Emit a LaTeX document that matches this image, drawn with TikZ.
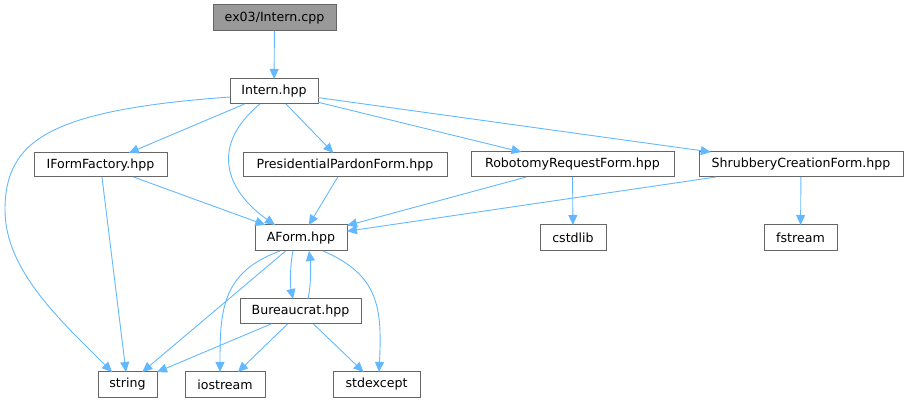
\documentclass[tikz,border=0pt]{standalone}
\usepackage{fontspec}
\setmainfont{DejaVu Sans}
\usetikzlibrary{arrows.meta}
\definecolor{edgeblue}{HTML}{63B8FF}
\definecolor{nodeborder}{HTML}{666666}
\definecolor{rootfill}{HTML}{999999}
\begin{document}
\begin{tikzpicture}[x=1pt,y=-1pt,
  box/.style={draw=nodeborder,line width=1pt,fill=white,inner sep=0pt,outer sep=0pt,
    minimum height=25pt,font=\fontsize{12.6}{14}\selectfont},
  rootbox/.style={box,fill=rootfill},
  dep/.style={draw=edgeblue,line width=0.9pt,-{Triangle[length=10pt,width=9pt]}}
]
\useasboundingbox (0,0) rectangle (908,403);
\node[rootbox,minimum width=123pt,minimum height=26pt] (cpp) at (274.5,18) {ex03/Intern.cpp};
\node[box,minimum width=88pt] (intern) at (274,91.5) {Intern.hpp};
\node[box,minimum width=133pt,minimum height=24pt] (iff) at (100.5,165) {IFormFactory.hpp};
\node[box,minimum width=204pt,minimum height=24pt] (ppf) at (345,165) {PresidentialPardonForm.hpp};
\node[box,minimum width=203pt] (rrf) at (572.5,164.5) {RobotomyRequestForm.hpp};
\node[box,minimum width=204pt] (scf) at (801,164.5) {ShrubberyCreationForm.hpp};
\node[box,minimum width=92pt,minimum height=26pt] (aform) at (301,238) {AForm.hpp};
\node[box,minimum width=66pt,minimum height=26pt] (cstdlib) at (573,238) {cstdlib};
\node[box,minimum width=73pt,minimum height=26pt] (fstream) at (800.5,238) {fstream};
\node[box,minimum width=121pt] (bur) at (300.5,311.5) {Bureaucrat.hpp};
\node[box,minimum width=59pt] (string) at (127.5,384.5) {string};
\node[box,minimum width=80pt] (iostream) at (225,384.5) {iostream};
\node[box,minimum width=87pt] (stdexcept) at (376.5,384.5) {stdexcept};

\draw[dep] (cpp) -- (intern);
\draw[dep] ([yshift=-5.5pt]intern.west) .. controls (50,110) and (5,140) .. (5,210)
  .. controls (5,270) and (60,320) .. ([xshift=-15.5pt]string.north);
\draw[dep] (intern) -- (iff);
\draw[dep] ([xshift=-14pt]intern.south) .. controls (210,145) and (225,190) .. ([xshift=-26pt]aform.north);
\draw[dep] (intern) -- (ppf);
\draw[dep] (intern) -- (rrf);
\draw[dep] (intern) -- (scf);
\draw[dep] (iff) -- (aform);
\draw[dep] (iff) -- (string);
\draw[dep] (ppf) -- (aform);
\draw[dep] (rrf) -- (aform);
\draw[dep] (rrf) -- (cstdlib);
\draw[dep] (scf) -- (aform);
\draw[dep] (scf) -- (fstream);
\draw[dep] (aform) -- (string);
\draw[dep] ([xshift=-21pt]aform.south) .. controls (222,272) and (220,310) .. ([xshift=-5pt]iostream.north);
\draw[dep] ([xshift=-8pt]aform.south) .. controls (290,265) and (290,285) .. ([xshift=-7.5pt]bur.north);
\draw[dep] ([xshift=7.5pt]bur.north) .. controls (311,285) and (311,265) .. ([xshift=8pt]aform.south);
\draw[dep] ([xshift=22pt]aform.south) .. controls (380,275) and (382,310) .. ([xshift=2.5pt]stdexcept.north);
\draw[dep] (bur) -- (string);
\draw[dep] (bur) -- (iostream);
\draw[dep] (bur) -- (stdexcept);
\end{tikzpicture}
\end{document}
